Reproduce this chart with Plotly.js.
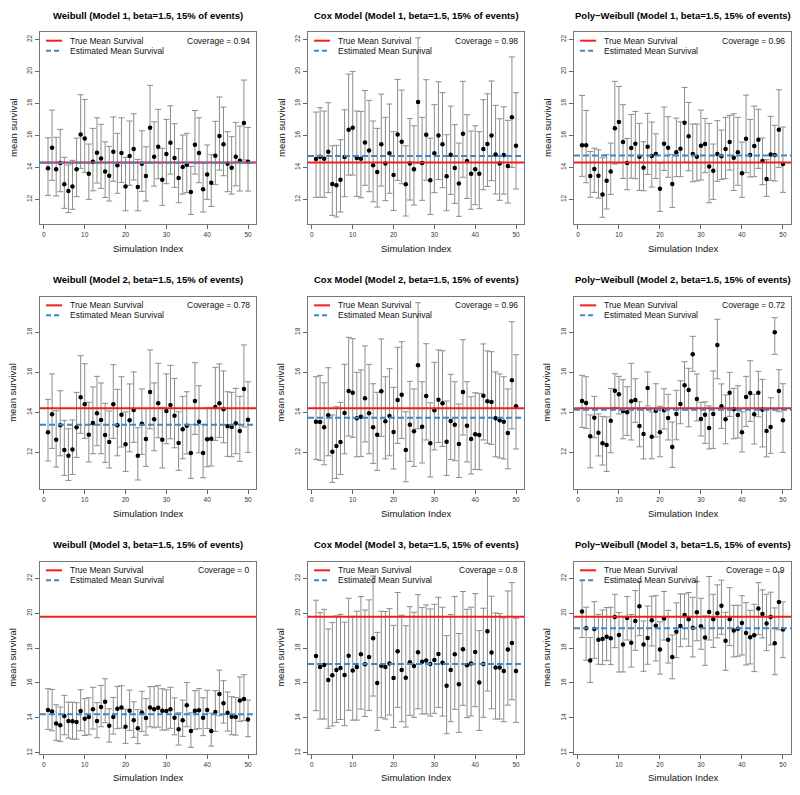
<!DOCTYPE html>
<html>
<head>
<meta charset="utf-8">
<script src="https://cdn.plot.ly/plotly-3.0.1.min.js"></script>
<style>html,body{margin:0;padding:0;background:#fff;}#chart{width:800px;height:795px;}</style>
</head>
<body>
<div id="chart"></div>
<script>
// ---------- DATA ----------
const simIndex = [1,2,3,4,5,6,7,8,9,10,11,12,13,14,15,16,17,18,19,20,21,22,23,24,25,26,27,28,29,30,31,32,33,34,35,36,37,38,39,40,41,42,43,44,45,46,47,48,49,50];

const panelTitles = [
  "Weibull (Model 1, beta=1.5, 15% of events)",
  "Cox Model (Model 1, beta=1.5, 15% of events)",
  "Poly\u2212Weibull (Model 1, beta=1.5, 15% of events)",
  "Weibull (Model 2, beta=1.5, 15% of events)",
  "Cox Model (Model 2, beta=1.5, 15% of events)",
  "Poly\u2212Weibull (Model 2, beta=1.5, 15% of events)",
  "Weibull (Model 3, beta=1.5, 15% of events)",
  "Cox Model (Model 3, beta=1.5, 15% of events)",
  "Poly\u2212Weibull (Model 3, beta=1.5, 15% of events)"
];
const coverageLabels = ["0.94","0.98","0.96","0.78","0.96","0.72","0","0.8","0.9"];
const trueMeanSurvival = [14.31,14.31,14.31,14.2,14.2,14.2,19.8,19.8,19.8];
const estimatedMeanSurvival = [14.29,14.71,14.75,13.38,13.73,14.13,14.2,17.09,19.13];
const yTickRows = [[12,14,16,18,20,22],[12,14,16,18],[12,14,16,18,20,22]];
const xTicks = [0,10,20,30,40,50];

const weibullM1Mean = [13.94,15.23,13.88,14.27,12.94,12.52,12.81,13.88,16.06,15.81,13.6,14.35,14.92,14.56,13.75,13.48,14.98,14.13,14.9,12.81,14.71,15.15,12.77,14.23,13.46,16.48,14.67,15.29,13.23,14.83,15.54,14.58,13.33,14.02,14.17,12.46,15.42,14.9,12.63,13.56,13.04,14.73,15.96,15.44,14.23,13.98,14.67,14.42,16.77,14.35];
const weibullM1Lower = [12.25,13.19,12.21,12.48,11.44,11.17,11.38,12.17,13.94,13.69,12.0,12.54,13.02,12.69,12.12,11.9,13.13,12.38,13.06,11.29,12.88,13.21,11.29,12.5,11.9,14.27,12.83,13.29,11.63,12.98,13.58,12.75,11.79,12.33,12.42,11.06,13.58,13.04,11.21,12.0,11.56,12.92,13.83,13.48,12.48,12.33,12.85,12.52,14.46,12.52];
const weibullM1Upper = [15.85,17.58,15.88,16.38,14.63,14.15,14.44,15.83,18.54,18.25,15.46,16.44,17.1,16.69,15.6,15.31,17.15,16.13,17.1,14.63,16.9,17.35,14.5,16.29,15.29,19.13,16.85,17.63,15.19,17.0,17.85,16.73,15.17,16.02,16.13,14.06,17.56,17.1,14.31,15.4,14.79,16.88,18.4,17.77,16.23,15.92,16.81,16.58,19.46,16.5];

const coxM1Mean = [14.52,14.67,14.54,14.98,12.96,12.88,13.23,14.65,16.35,16.48,14.58,14.54,15.56,15.06,14.13,13.71,15.44,14.25,14.88,13.52,16.06,15.6,12.94,14.25,13.88,18.08,14.27,16.04,13.19,14.88,16.0,15.44,13.44,14.79,13.96,13.0,16.1,14.4,13.6,13.88,13.6,15.15,15.46,16.0,14.81,14.25,14.77,14.08,17.13,15.35];
const coxM1Lower = [12.13,12.13,12.13,12.42,11.0,10.9,11.21,12.17,13.52,13.52,12.19,12.1,12.88,12.48,11.85,11.52,12.83,11.92,12.38,11.31,13.19,12.98,10.96,11.96,11.65,14.27,11.94,13.19,11.06,12.42,13.25,12.73,11.29,12.31,11.75,10.94,13.38,12.06,11.38,11.67,11.42,12.6,12.81,13.17,12.33,11.94,12.33,11.77,14.0,12.65];
const coxM1Upper = [17.46,17.73,17.52,18.04,15.35,15.38,15.73,17.6,19.83,20.0,17.52,17.5,18.81,18.19,16.9,16.44,18.58,17.13,17.96,16.23,19.5,18.83,15.35,17.06,16.6,22.1,17.13,19.48,15.83,17.92,19.35,18.67,16.04,17.83,16.67,15.52,19.38,17.29,16.27,16.6,16.23,18.23,18.6,19.4,17.88,17.04,17.79,16.94,20.9,18.67];

const polyM1Mean = [15.38,15.38,13.46,13.9,13.48,12.31,13.17,13.75,16.44,16.83,15.58,14.27,15.21,15.48,14.67,13.98,15.29,14.71,14.83,12.67,15.48,15.23,12.96,14.94,15.17,16.79,15.94,14.83,14.67,15.35,15.46,14.06,13.79,14.83,14.69,15.15,15.58,14.6,14.94,13.63,15.79,14.77,15.33,15.73,14.4,13.27,14.81,14.77,16.35,14.21];
const polyM1Lower = [13.44,13.04,12.13,12.44,12.08,10.88,11.4,12.31,14.21,14.27,13.31,12.6,13.33,13.29,12.56,12.54,13.56,12.77,13.31,11.25,13.81,13.38,11.5,13.42,13.42,14.31,13.79,13.1,13.15,13.21,13.67,11.79,12.0,13.13,13.25,13.29,13.83,12.56,12.88,12.13,13.67,13.4,13.42,13.94,12.92,12.19,13.19,13.15,14.0,12.44];
const polyM1Upper = [18.5,17.56,15.0,15.2,15.1,14.6,14.79,15.52,19.38,19.06,17.92,15.81,17.31,17.5,16.75,15.6,17.38,16.83,16.1,14.27,17.77,17.17,14.81,17.08,16.85,19.0,18.06,16.71,16.71,17.58,17.06,16.75,15.46,16.92,16.33,17.13,17.25,17.35,17.13,15.58,18.52,17.0,17.83,17.63,15.83,14.48,17.19,16.63,18.85,16.52];

const weibullM2Mean = [13.0,13.9,12.63,13.35,12.12,11.83,12.15,13.25,14.75,14.4,12.88,13.47,13.95,13.62,12.87,12.52,14.4,13.35,13.88,12.4,13.6,14.12,11.83,13.43,12.67,15.02,13.65,14.45,12.63,14.07,14.37,13.83,12.47,13.15,13.33,11.97,14.57,13.53,11.97,12.65,12.68,14.27,14.45,14.15,13.3,13.27,13.45,13.07,15.17,13.63];
const weibullM2Lower = [11.57,12.2,11.27,11.83,10.85,10.6,10.9,11.75,12.95,12.7,11.52,11.93,12.33,11.93,11.5,11.22,12.7,11.83,12.27,11.05,12.03,12.5,10.62,11.9,11.3,13.18,12.08,12.73,11.22,12.43,12.68,12.23,11.1,11.68,11.92,10.7,12.9,11.98,10.73,11.28,11.32,12.6,12.75,12.48,11.8,11.78,11.93,11.55,13.27,12.0];
const weibullM2Upper = [14.65,15.92,14.08,15.08,13.6,13.18,13.62,15.0,16.83,16.43,14.5,15.27,15.8,15.47,14.45,14.07,16.38,15.15,15.78,14.02,15.42,16.02,13.23,15.17,14.2,17.12,15.47,16.45,14.25,15.92,16.35,15.7,14.03,14.8,15.03,13.4,16.48,15.33,13.4,14.22,14.25,16.25,16.42,16.07,15.03,15.0,15.2,14.8,17.37,15.53];

const coxM2Mean = [13.53,13.52,13.25,13.85,12.03,12.32,12.52,13.97,15.07,14.98,13.7,13.78,14.7,13.95,13.25,12.88,15.05,13.55,13.82,13.02,14.62,14.88,12.12,13.38,13.05,16.35,13.28,14.82,12.45,14.1,14.63,14.45,12.53,13.57,13.38,12.42,15.02,13.33,12.67,12.9,12.87,14.83,14.55,14.52,13.7,13.6,13.53,12.97,15.6,14.3];
const coxM2Lower = [11.65,11.6,11.38,11.83,10.5,10.7,10.9,11.93,12.82,12.75,11.78,11.8,12.52,11.93,11.45,11.1,12.8,11.68,11.83,11.17,12.45,12.7,10.53,11.55,11.3,13.18,11.47,12.62,10.77,12.12,12.5,12.3,10.85,11.65,11.58,10.75,12.87,11.52,10.92,11.15,11.13,12.62,12.45,12.4,11.78,11.72,11.67,11.18,13.18,12.17];
const coxM2Upper = [15.78,15.85,15.48,16.23,13.87,14.28,14.5,16.4,17.75,17.68,16.0,16.12,17.32,16.4,15.43,15.0,17.67,15.78,16.18,15.25,17.25,17.53,14.03,15.55,15.17,19.48,15.53,17.43,14.48,16.5,17.12,17.08,14.57,15.9,15.53,14.42,17.63,15.53,14.78,14.98,14.95,17.42,17.07,17.03,16.02,15.92,15.78,15.17,18.53,16.88];

const polyM2Mean = [14.57,14.47,12.8,13.73,12.98,12.45,12.37,13.58,15.08,14.9,14.07,14.0,14.55,14.62,13.32,12.92,15.22,12.78,14.08,13.0,14.1,13.72,12.27,13.92,14.42,15.35,15.12,16.9,14.67,13.67,13.88,13.22,13.92,17.37,14.3,13.65,14.98,14.15,13.87,13.0,14.77,14.97,13.9,14.98,14.13,13.07,13.27,18.0,15.07,13.6];
const polyM2Lower = [13.25,13.2,11.23,12.73,11.82,11.37,11.05,11.98,14.25,13.92,12.68,12.85,12.62,13.5,12.28,11.67,14.32,11.68,12.77,11.78,13.17,12.62,11.25,12.63,13.43,14.13,13.28,16.05,13.57,12.82,12.45,12.17,12.2,15.68,13.2,12.43,13.8,12.68,12.72,12.02,13.3,13.55,12.42,13.78,12.27,11.78,11.95,16.9,14.03,12.0];
const polyM2Upper = [15.85,15.78,13.87,14.8,13.92,13.8,13.77,15.2,15.93,15.8,15.63,15.28,16.45,15.68,14.53,14.22,16.02,14.02,15.43,14.3,15.18,14.9,13.52,15.1,15.58,16.53,16.2,17.8,15.92,14.5,14.53,14.32,16.07,18.65,15.42,14.87,16.0,15.2,15.33,14.03,15.8,16.58,14.9,16.05,15.65,14.13,14.73,18.73,16.13,15.43];

const weibullM3Mean = [14.45,14.37,13.68,13.57,14.1,13.82,13.8,13.76,14.39,13.95,14.05,14.49,13.82,14.62,14.93,13.55,14.05,14.52,14.6,13.49,14.41,13.87,13.41,14.31,13.99,14.6,14.5,14.58,14.41,14.39,14.5,14.01,13.34,13.87,14.72,13.24,14.41,14.43,14.01,14.45,13.24,14.33,15.37,14.83,14.29,14.07,14.05,15.0,15.08,13.91];
const weibullM3Lower = [13.34,13.26,12.71,12.65,13.03,12.84,12.78,12.78,13.26,12.99,13.03,13.36,12.86,13.49,13.72,12.61,13.07,13.38,13.41,12.54,13.28,12.88,12.52,13.22,13.01,13.49,13.43,13.47,13.3,13.3,13.4,13.03,12.44,12.94,13.49,12.31,13.34,13.38,12.98,13.38,12.38,13.22,14.12,13.7,13.24,13.03,13.01,13.8,13.84,12.92];
const weibullM3Upper = [15.67,15.63,14.75,14.62,15.29,14.9,14.9,14.87,15.61,15.1,15.15,15.75,14.87,15.86,16.24,14.52,15.17,15.8,15.84,14.49,15.59,14.92,14.47,15.52,15.1,15.79,15.8,15.86,15.67,15.61,15.75,15.14,14.29,15.02,16.03,14.29,15.56,15.67,15.15,15.58,14.27,15.56,16.74,16.13,15.48,15.21,15.17,16.34,16.47,15.02];

const coxM3Mean = [17.54,16.91,17.03,16.17,16.44,16.74,16.86,16.46,17.56,16.72,16.91,17.64,17.07,17.49,18.56,16.0,16.99,16.91,17.12,16.28,17.81,16.74,16.3,17.18,16.97,17.76,17.22,17.28,17.09,17.32,17.66,17.16,15.84,16.74,17.64,15.92,17.93,17.01,17.12,17.77,16.03,17.09,18.96,17.74,16.89,16.89,16.68,17.91,18.29,16.68];
const coxM3Lower = [14.41,13.93,13.93,13.4,13.53,13.74,13.91,13.55,14.43,13.87,13.87,14.5,14.08,14.43,15.25,13.28,14.01,13.93,14.16,13.45,14.6,13.78,13.47,14.14,14.03,14.52,14.22,14.22,14.1,14.26,14.6,14.1,13.09,13.78,14.49,13.17,14.72,14.01,14.1,14.64,13.28,14.03,15.54,14.52,13.93,13.93,13.78,14.73,15.04,13.74];
const coxM3Upper = [20.74,20.03,20.22,19.09,19.46,19.84,19.93,19.48,20.85,19.82,20.11,20.95,20.18,20.76,22.13,18.9,20.11,20.09,20.26,19.3,21.18,19.88,19.28,20.37,20.05,21.06,20.32,20.47,20.24,20.51,20.91,20.34,18.71,19.92,20.95,18.83,21.24,20.22,20.34,21.12,19.0,20.28,22.33,20.97,20.01,19.97,19.72,21.27,21.75,19.71];

const polyM3Mean = [20.09,19.13,17.28,19.09,18.48,18.52,18.65,18.56,19.78,18.75,18.2,19.72,18.31,19.55,20.39,18.21,18.58,19.59,19.28,17.91,19.7,18.48,17.49,18.94,19.27,19.9,19.65,19.17,20.05,19.25,18.6,20.07,19.65,19.99,20.43,18.42,19.65,19.0,19.11,19.44,18.86,18.62,18.73,20.26,19.95,19.4,19.78,18.27,20.64,19.06];
const polyM3Lower = [18.6,17.3,16.03,17.41,17.07,17.05,17.28,17.05,18.02,16.63,16.63,18.46,16.91,17.87,18.71,16.67,17.07,18.12,17.26,16.51,18.46,17.14,16.24,17.45,18.08,18.52,18.1,17.49,18.42,17.93,17.01,18.46,18.04,18.58,18.79,16.72,18.14,17.49,17.53,17.6,17.03,17.09,16.65,18.77,18.58,17.85,18.18,16.47,19.04,17.45];
const polyM3Upper = [21.87,20.34,18.6,20.66,19.93,20.18,20.32,20.34,21.08,20.03,19.82,20.95,19.92,21.29,21.81,19.55,20.41,20.97,21.0,19.51,21.24,20.16,18.75,20.59,21.1,21.1,21.18,20.91,21.81,20.85,19.84,22.1,21.08,21.62,21.89,20.05,21.46,20.45,20.45,21.0,20.6,20.16,20.51,21.75,21.33,21.08,21.2,20.3,22.38,20.64];

// ---------- BUILD ----------
const panels = [
  [weibullM1Mean, weibullM1Lower, weibullM1Upper],
  [coxM1Mean, coxM1Lower, coxM1Upper],
  [polyM1Mean, polyM1Lower, polyM1Upper],
  [weibullM2Mean, weibullM2Lower, weibullM2Upper],
  [coxM2Mean, coxM2Lower, coxM2Upper],
  [polyM2Mean, polyM2Lower, polyM2Upper],
  [weibullM3Mean, weibullM3Lower, weibullM3Upper],
  [coxM3Mean, coxM3Lower, coxM3Upper],
  [polyM3Mean, polyM3Lower, polyM3Upper]
];

const FONT = "Liberation Sans, Arial, Helvetica, sans-serif";
const xDomains = [[0.05,0.32],[0.385,0.655],[0.7175,0.98875]];
const yDomains = [[0.7182,0.9597],[0.3849,0.6268],[0.0516,0.2935]];
const yRanges = [[10.46,22.46],[10.17,19.78],[11.93,22.95]];
const RED = "#ee1f1f", BLUE = "#3b88c9";

const traces = [];
const layout = {
  width: 800, height: 795,
  margin: {l:0, r:0, t:0, b:0},
  paper_bgcolor: "#ffffff", plot_bgcolor: "#ffffff",
  showlegend: false,
  font: {family: FONT, color: "#000"},
  shapes: [], annotations: []
};

panels.forEach((p, k) => {
  const row = Math.floor(k/3), col = k % 3;
  const xa = k === 0 ? "x" : "x" + (k+1);
  const ya = k === 0 ? "y" : "y" + (k+1);
  const xKey = k === 0 ? "xaxis" : "xaxis" + (k+1);
  const yKey = k === 0 ? "yaxis" : "yaxis" + (k+1);
  const [mean, lower, upper] = p;

  traces.push({
    type: "scatter", mode: "markers", xaxis: xa, yaxis: ya,
    x: simIndex, y: mean,
    marker: {color: "#000", size: 4.5},
    error_y: {
      type: "data", symmetric: false,
      array: upper.map((u, i) => u - mean[i]),
      arrayminus: lower.map((l, i) => mean[i] - l),
      color: "#8c8c8c", thickness: 1, width: 3
    },
    hoverinfo: "skip"
  });

  const axisCommon = {
    showgrid: false, zeroline: false, showline: true, mirror: true,
    linecolor: "#777", linewidth: 1, ticks: "outside", ticklen: 4,
    tickcolor: "#666", tickfont: {size: 6.5, color: "#333", family: FONT}
  };
  layout[xKey] = Object.assign({}, axisCommon, {
    domain: xDomains[col], range: [-0.96, 51.96], anchor: ya,
    tickmode: "array", tickvals: xTicks
  });
  layout[yKey] = Object.assign({}, axisCommon, {
    domain: yDomains[row], range: yRanges[row], anchor: xa,
    tickmode: "array", tickvals: yTickRows[row], tickangle: -90
  });

  // reference lines
  layout.shapes.push({type:"line", xref: xa+" domain", yref: ya, x0:0, x1:1,
    y0: trueMeanSurvival[k], y1: trueMeanSurvival[k], line:{color:RED, width:2}});
  layout.shapes.push({type:"line", xref: xa+" domain", yref: ya, x0:0, x1:1,
    y0: estimatedMeanSurvival[k], y1: estimatedMeanSurvival[k], line:{color:BLUE, width:2, dash:"6px,3px"}});

  // legend samples
  layout.shapes.push({type:"line", xref: xa+" domain", yref: ya+" domain", x0:0.028, x1:0.102,
    y0:0.955, y1:0.955, line:{color:RED, width:2}});
  layout.shapes.push({type:"line", xref: xa+" domain", yref: ya+" domain", x0:0.028, x1:0.102,
    y0:0.903, y1:0.903, line:{color:BLUE, width:2, dash:"5px,3px"}});

  const ann = (o) => layout.annotations.push(Object.assign({showarrow:false, xref: xa+" domain", yref: ya+" domain"}, o));
  ann({x:0.131, y:0.955, xanchor:"left", yanchor:"middle", text:"True Mean Survival", font:{size:8.5, family:FONT, color:"#111"}});
  ann({x:0.131, y:0.903, xanchor:"left", yanchor:"middle", text:"Estimated Mean Survival", font:{size:8.5, family:FONT, color:"#111"}});
  ann({x:0.982, y:0.955, xanchor:"right", yanchor:"middle", text:"Coverage = " + coverageLabels[k], font:{size:8.5, family:FONT, color:"#111"}});
  ann({x:0.5, y:1, yshift:17, xanchor:"center", yanchor:"middle", text:"<b>"+panelTitles[k]+"</b>", font:{size:9.5, family:FONT, color:"#000"}});
  ann({x:0.5, y:0, yshift:-24, xanchor:"center", yanchor:"middle", text:"Simulation Index", font:{size:9.5, family:FONT, color:"#111"}});
  ann({x:0, y:0.5, xshift:-27, xanchor:"center", yanchor:"middle", textangle:-90, text:"mean survival", font:{size:9.5, family:FONT, color:"#111"}});
});

Plotly.newPlot("chart", traces, layout, {staticPlot: true, displayModeBar: false});
</script>
</body>
</html>
